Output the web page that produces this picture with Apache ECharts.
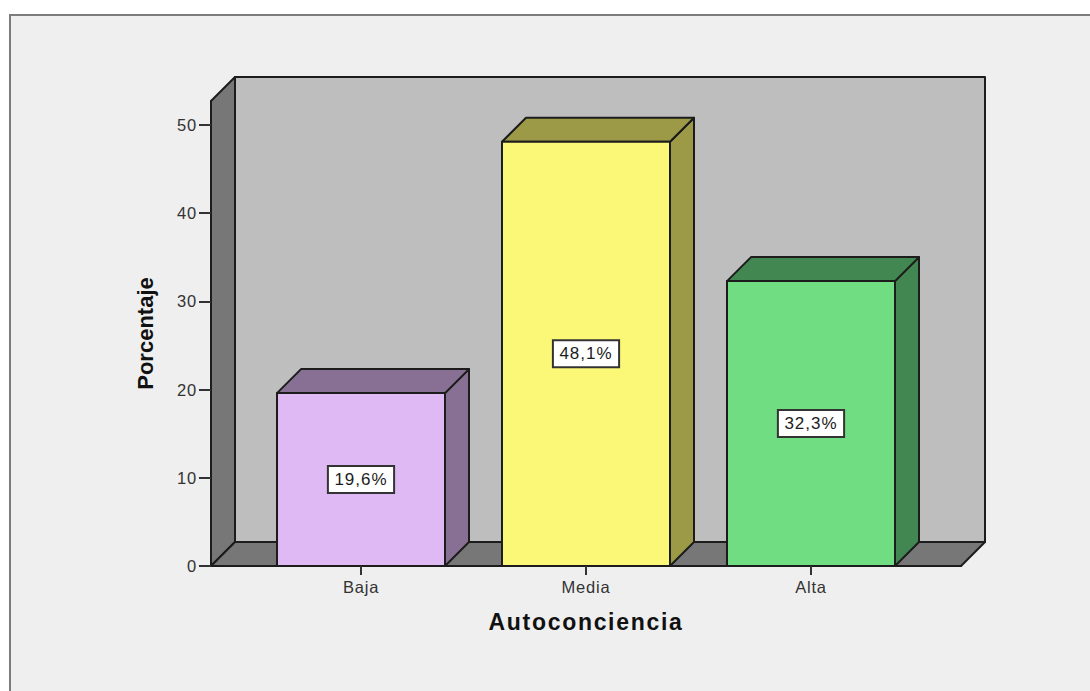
<!DOCTYPE html>
<html>
<head>
<meta charset="utf-8">
<style>
html,body{margin:0;padding:0;background:#fff}
#c{width:1090px;height:691px}
svg text[style*="16.5px"]{letter-spacing:.8px}
svg text[style*="17px"]{letter-spacing:1px}
svg text[style*="23px"]{letter-spacing:1.7px}
</style>
<script src="https://cdn.jsdelivr.net/npm/echarts@6/dist/echarts.min.js"></script>
</head>
<body>
<div id="c"></div>
<script>
const categories = ['Baja', 'Media', 'Alta'];
const values = [19.6, 48.1, 32.3];
const valueLabels = ['19,6%', '48,1%', '32,3%'];
const yTicks = [0, 10, 20, 30, 40, 50];
const frontColors = ['#DFB9F3', '#FBF777', '#70DD82'];
const sideColors = ['#877093', '#9C9A47', '#428752'];

const xMin = -2 / 3, xMax = 8 / 3, yMax = 52.72;
const DEPTH = 24, BAR = 0.7467;
const EDGE = { stroke: '#1c1c1c', lineWidth: 2, lineJoin: 'round' };

function poly(points, fill, z2) {
  return { type: 'polygon', z2: z2 || 0, shape: { points }, style: Object.assign({ fill }, EDGE) };
}

function renderWalls(params, api) {
  const a = api.coord([xMin, 0]), b = api.coord([xMax, 0]), t = api.coord([xMin, yMax]);
  const d = DEPTH;
  return {
    type: 'group',
    children: [
      poly([[a[0] + d, a[1] - d], [b[0] + d, b[1] - d], [b[0] + d, t[1] - d], [t[0] + d, t[1] - d]], '#BEBEBE'),
      poly([a, [a[0] + d, a[1] - d], [t[0] + d, t[1] - d], t], '#777777'),
      poly([a, b, [b[0] + d, b[1] - d], [a[0] + d, a[1] - d]], '#777777')
    ]
  };
}

function renderBar(params, api) {
  const i = api.value(0), v = api.value(1);
  const l = api.coord([i - BAR / 2, 0]), r = api.coord([i + BAR / 2, v]);
  const x0 = l[0], y0 = l[1], x1 = r[0], y1 = r[1], d = DEPTH;
  return {
    type: 'group',
    children: [
      poly([[x1, y0], [x1 + d, y0 - d], [x1 + d, y1 - d], [x1, y1]], sideColors[i]),
      poly([[x0, y1], [x1, y1], [x1 + d, y1 - d], [x0 + d, y1 - d]], sideColors[i]),
      poly([[x0, y0], [x1, y0], [x1, y1], [x0, y1]], frontColors[i]),
      {
        type: 'text', z2: 10,
        style: {
          x: (x0 + x1) / 2, y: (y0 + y1) / 2,
          text: valueLabels[i], align: 'center', verticalAlign: 'middle',
          font: '17px "Liberation Sans", Arial, sans-serif', fill: '#1c1c1c',
          backgroundColor: '#fff', borderColor: '#333', borderWidth: 2,
          padding: [4, 8]
        }
      }
    ]
  };
}

const chart = echarts.init(document.getElementById('c'), null, { renderer: 'svg' });
chart.setOption({
  animation: false,
  backgroundColor: '#ffffff',
  graphic: [
    { type: 'rect', silent: true, z: -10, shape: { x: 10, y: 15, width: 1080, height: 676 }, style: { fill: '#EFEFEF' } },
    { type: 'polyline', silent: true, z: -9, shape: { points: [[10, 691], [10, 15], [1090, 15]] }, style: { stroke: '#7c7c7c', lineWidth: 2, fill: null } }
  ],
  grid: { left: 211, top: 101, width: 750, height: 465 },
  xAxis: {
    type: 'value', min: xMin, max: xMax, z: 8,
    splitLine: { show: false },
    axisLine: { onZero: false, lineStyle: { color: '#1c1c1c', width: 2 } },
    axisTick: { show: true, customValues: [0, 1, 2], length: 9, lineStyle: { color: '#333', width: 2 } },
    axisLabel: {
      customValues: [0, 1, 2],
      formatter: v => categories[v],
      margin: 12, color: '#333', fontSize: 16.5, fontFamily: '"Liberation Sans", Arial, sans-serif'
    },
    name: 'Autoconciencia', nameLocation: 'middle', nameGap: 44,
    nameTextStyle: { fontWeight: 'bold', fontSize: 23, color: '#111', fontFamily: '"Liberation Sans", Arial, sans-serif' }
  },
  yAxis: {
    type: 'value', min: 0, max: yMax, z: 8,
    splitLine: { show: false },
    axisLine: { show: true, onZero: false, lineStyle: { color: '#1c1c1c', width: 2 } },
    axisTick: { show: true, customValues: yTicks, length: 12, lineStyle: { color: '#333', width: 2 } },
    axisLabel: {
      customValues: yTicks, margin: 14, color: '#333', fontSize: 16.5, padding: [3, 0, 0, 0],
      fontFamily: '"Liberation Sans", Arial, sans-serif'
    },
    name: 'Porcentaje', nameLocation: 'middle', nameGap: 55, nameRotate: 90,
    nameTextStyle: { fontWeight: 'bold', fontSize: 22, color: '#111', fontFamily: '"Liberation Sans", Arial, sans-serif' }
  },
  series: [
    { type: 'custom', z: 1, clip: false, silent: true, renderItem: renderWalls, data: [[0, 0]] },
    { type: 'custom', z: 2, clip: false, renderItem: renderBar,
      encode: { x: 0, y: 1 },
      data: values.map((v, i) => [i, v]) }
  ]
});
</script>
</body>
</html>
